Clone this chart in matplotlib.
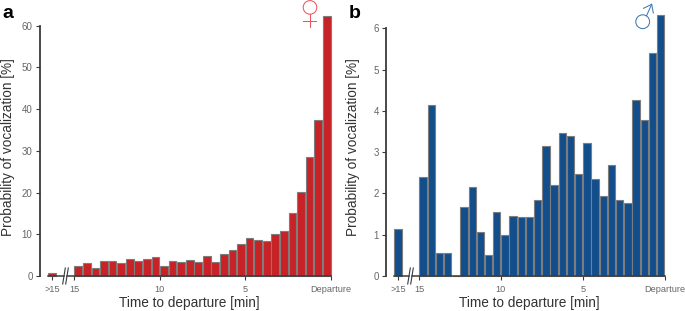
#!/usr/bin/env python3
import matplotlib

matplotlib.use("Agg")
import matplotlib.pyplot as plt
from matplotlib.patches import Circle

plt.rcParams["font.family"] = ["Liberation Sans", "DejaVu Sans"]

W, H = 685, 311

minutes = [15 - 0.5 * i for i in range(30)]
tick_minutes = [15, 10, 5, 0]
tick_labels = ["15", "10", "5", "Departure"]

female_over15 = 0.8
female_values = [2.3, 3.1, 2.0, 3.6, 3.6, 3.0, 4.0, 3.6, 4.1, 4.6,
                 2.5, 3.5, 3.3, 3.9, 3.3, 4.9, 3.3, 5.3, 6.3, 7.7,
                 9.1, 8.6, 8.3, 10.1, 10.9, 15.0, 20.2, 28.5, 37.4, 62.4]
female_yticks = [0, 10, 20, 30, 40, 50, 60]

male_over15 = 1.14
male_values = [2.41, 4.14, 0.56, 0.56, 0.0, 1.66, 2.16, 1.07, 0.52, 1.55,
               1.0, 1.46, 1.44, 1.42, 1.83, 3.16, 2.21, 3.46, 3.39, 2.46,
               3.23, 2.35, 1.93, 2.68, 1.83, 1.78, 4.26, 3.79, 5.40, 6.32]
male_yticks = [0, 1, 2, 3, 4, 5, 6]

AXIS_COLOR = "#3a3a3a"
TICK_TEXT = "#666666"
LABEL_TEXT = "#333333"
EDGE = "#7d7d7d"
Y_ZERO = 276.0


def draw_panel(fig, art, values, over15, yticks, color, x_axis, x_15, x_dep, x_over, x_break, y_top,
               letter, letter_x, ylabel_x, xlabel_x):
    ax = fig.add_axes([x_axis / W, 1 - Y_ZERO / H, (x_dep - x_axis) / W, (Y_ZERO - y_top) / H])
    per_min = (x_dep - x_15) / 15
    ax.set_xlim((x_dep - x_axis) / per_min, 0)
    ax.set_ylim(yticks[0], yticks[-1])
    ax.patch.set_visible(False)

    over_pos = (x_dep - x_over) / per_min
    bar_kw = dict(color=color, edgecolor=EDGE, linewidth=0.8, clip_on=False, zorder=3)
    ax.bar([m - 0.25 for m in minutes], values, width=0.45, **bar_kw)
    ax.bar([over_pos], [over15], width=0.45, **bar_kw)

    for side in ("top", "right", "bottom"):
        ax.spines[side].set_visible(False)
    ax.spines["left"].set_color(AXIS_COLOR)
    ax.spines["left"].set_linewidth(1.3)

    ax.set_xticks([over_pos] + tick_minutes)
    ax.set_xticklabels([">15"] + tick_labels)
    ax.set_yticks(yticks)
    ax.tick_params(axis="x", length=3, width=0.8, color=AXIS_COLOR, labelcolor=TICK_TEXT, labelsize=6.6, pad=3.5)
    ax.tick_params(axis="y", length=3, width=0.8, color=AXIS_COLOR, labelcolor=TICK_TEXT, labelsize=7.0, pad=2)

    fig.text(xlabel_x / W, 1 - 303 / H, "Time to departure [min]", fontsize=9.8, color=LABEL_TEXT,
             ha="center", va="center")
    fig.text(ylabel_x / W, 1 - 147 / H, "Probability of vocalization [%]", fontsize=9.8, color=LABEL_TEXT,
             rotation=90, ha="center", va="center")
    fig.text(letter_x / W, 1 - 14 / H, letter, fontsize=14, fontweight="bold", color="black", va="center", ha="left")

    # broken x axis line, starts at the >15 bar and leaves a gap between the slashes
    start = x_over - 4
    art.plot([start, x_break - 1.5], [Y_ZERO, Y_ZERO], color=AXIS_COLOR, lw=1.1, zorder=2)
    art.plot([x_break + 1.5, x_dep], [Y_ZERO, Y_ZERO], color=AXIS_COLOR, lw=1.1, zorder=2)
    for off in (-1.5, 1.5):
        art.plot([x_break + off - 1.3, x_break + off + 1.3], [Y_ZERO + 8, Y_ZERO - 8], color=AXIS_COLOR, lw=0.8)


fig = plt.figure(figsize=(W / 100, H / 100), dpi=100)

art = fig.add_axes([0, 0, 1, 1], zorder=5)
art.set_xlim(0, W)
art.set_ylim(H, 0)
art.axis("off")
art.patch.set_visible(False)

draw_panel(fig, art, female_values, female_over15, female_yticks, "#c82227",
           39.5, 74.0, 331.0, 52.0, 65.5, 25.7, "a", 2.5, 8, 189.5)
draw_panel(fig, art, male_values, male_over15, male_yticks, "#124e8c",
           385.7, 419.0, 664.7, 398.0, 410.5, 28.3, "b", 349, 353, 529.5)

# sex symbols drawn by hand so the stroke stays thin, as in the figure
red = "#ee5560"
blue = "#4078b4"
art.add_patch(Circle((310, 7.4), 6.8, fill=False, ec=red, lw=0.75))
art.plot([310, 310], [14.2, 26.5], color=red, lw=0.75)
art.plot([303.5, 316.5], [20.7, 20.7], color=red, lw=0.75)
art.add_patch(Circle((642.7, 21.7), 6.9, fill=False, ec=blue, lw=0.75))
art.plot([646.5, 651.7], [15.8, 4.3], color=blue, lw=0.75)
art.plot([643.5, 651.7, 653.3], [8.3, 4.3, 13.0], color=blue, lw=0.75)

fig.savefig("out.png", dpi=100)
